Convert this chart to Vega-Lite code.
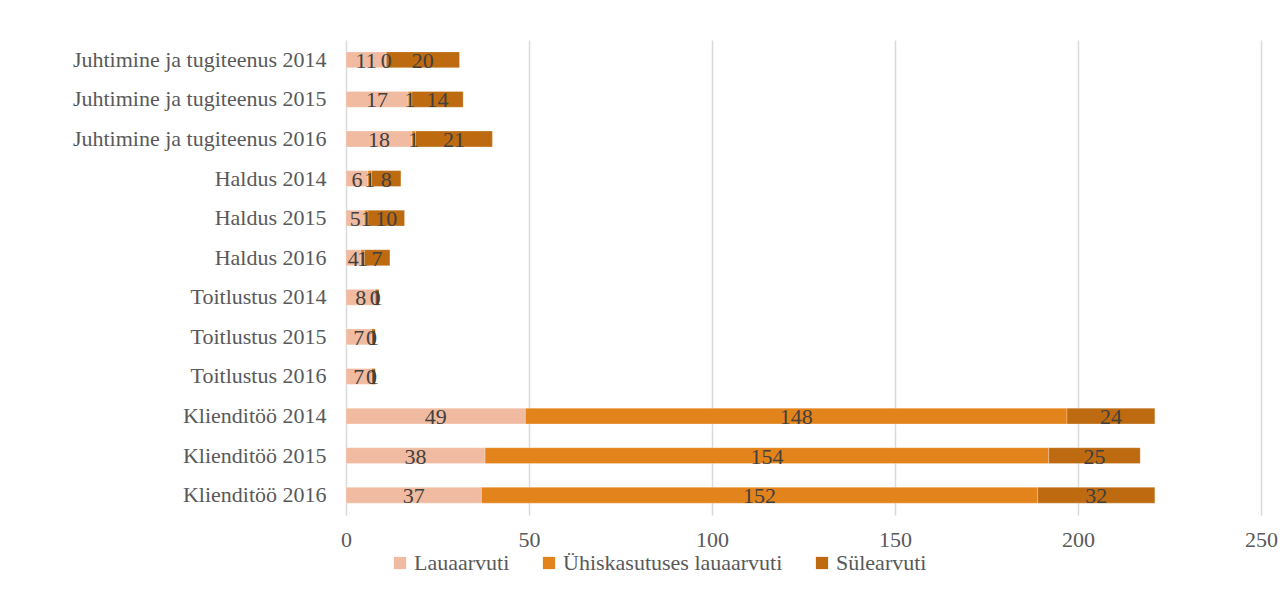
{
  "$schema": "https://vega.github.io/schema/vega-lite/v6.json",
  "autosize": {"type": "none"},
  "width": 915,
  "height": 475,
  "padding": {"left": 346, "top": 40, "right": 24, "bottom": 77},
  "background": "#ffffff",
  "config": {
    "view": {"stroke": null},
    "font": "Liberation Serif"
  },
  "data": {
    "values": [
      {"rida": "Juhtimine ja tugiteenus 2014", "tyyp": "Lauaarvuti", "jrk": 1, "arv": 11},
      {"rida": "Juhtimine ja tugiteenus 2014", "tyyp": "Ühiskasutuses lauaarvuti", "jrk": 2, "arv": 0},
      {"rida": "Juhtimine ja tugiteenus 2014", "tyyp": "Sülearvuti", "jrk": 3, "arv": 20},
      {"rida": "Juhtimine ja tugiteenus 2015", "tyyp": "Lauaarvuti", "jrk": 1, "arv": 17},
      {"rida": "Juhtimine ja tugiteenus 2015", "tyyp": "Ühiskasutuses lauaarvuti", "jrk": 2, "arv": 1},
      {"rida": "Juhtimine ja tugiteenus 2015", "tyyp": "Sülearvuti", "jrk": 3, "arv": 14},
      {"rida": "Juhtimine ja tugiteenus 2016", "tyyp": "Lauaarvuti", "jrk": 1, "arv": 18},
      {"rida": "Juhtimine ja tugiteenus 2016", "tyyp": "Ühiskasutuses lauaarvuti", "jrk": 2, "arv": 1},
      {"rida": "Juhtimine ja tugiteenus 2016", "tyyp": "Sülearvuti", "jrk": 3, "arv": 21},
      {"rida": "Haldus 2014", "tyyp": "Lauaarvuti", "jrk": 1, "arv": 6},
      {"rida": "Haldus 2014", "tyyp": "Ühiskasutuses lauaarvuti", "jrk": 2, "arv": 1},
      {"rida": "Haldus 2014", "tyyp": "Sülearvuti", "jrk": 3, "arv": 8},
      {"rida": "Haldus 2015", "tyyp": "Lauaarvuti", "jrk": 1, "arv": 5},
      {"rida": "Haldus 2015", "tyyp": "Ühiskasutuses lauaarvuti", "jrk": 2, "arv": 1},
      {"rida": "Haldus 2015", "tyyp": "Sülearvuti", "jrk": 3, "arv": 10},
      {"rida": "Haldus 2016", "tyyp": "Lauaarvuti", "jrk": 1, "arv": 4},
      {"rida": "Haldus 2016", "tyyp": "Ühiskasutuses lauaarvuti", "jrk": 2, "arv": 1},
      {"rida": "Haldus 2016", "tyyp": "Sülearvuti", "jrk": 3, "arv": 7},
      {"rida": "Toitlustus 2014", "tyyp": "Lauaarvuti", "jrk": 1, "arv": 8},
      {"rida": "Toitlustus 2014", "tyyp": "Ühiskasutuses lauaarvuti", "jrk": 2, "arv": 0},
      {"rida": "Toitlustus 2014", "tyyp": "Sülearvuti", "jrk": 3, "arv": 1},
      {"rida": "Toitlustus 2015", "tyyp": "Lauaarvuti", "jrk": 1, "arv": 7},
      {"rida": "Toitlustus 2015", "tyyp": "Ühiskasutuses lauaarvuti", "jrk": 2, "arv": 0},
      {"rida": "Toitlustus 2015", "tyyp": "Sülearvuti", "jrk": 3, "arv": 1},
      {"rida": "Toitlustus 2016", "tyyp": "Lauaarvuti", "jrk": 1, "arv": 7},
      {"rida": "Toitlustus 2016", "tyyp": "Ühiskasutuses lauaarvuti", "jrk": 2, "arv": 0},
      {"rida": "Toitlustus 2016", "tyyp": "Sülearvuti", "jrk": 3, "arv": 1},
      {"rida": "Klienditöö 2014", "tyyp": "Lauaarvuti", "jrk": 1, "arv": 49},
      {"rida": "Klienditöö 2014", "tyyp": "Ühiskasutuses lauaarvuti", "jrk": 2, "arv": 148},
      {"rida": "Klienditöö 2014", "tyyp": "Sülearvuti", "jrk": 3, "arv": 24},
      {"rida": "Klienditöö 2015", "tyyp": "Lauaarvuti", "jrk": 1, "arv": 38},
      {"rida": "Klienditöö 2015", "tyyp": "Ühiskasutuses lauaarvuti", "jrk": 2, "arv": 154},
      {"rida": "Klienditöö 2015", "tyyp": "Sülearvuti", "jrk": 3, "arv": 25},
      {"rida": "Klienditöö 2016", "tyyp": "Lauaarvuti", "jrk": 1, "arv": 37},
      {"rida": "Klienditöö 2016", "tyyp": "Ühiskasutuses lauaarvuti", "jrk": 2, "arv": 152},
      {"rida": "Klienditöö 2016", "tyyp": "Sülearvuti", "jrk": 3, "arv": 32}
    ]
  },
  "encoding": {
    "y": {
      "field": "rida",
      "type": "nominal",
      "sort": null,
      "title": null,
      "scale": {"paddingInner": 0.6, "paddingOuter": 0.3},
      "axis": {
        "domain": false,
        "ticks": false,
        "labelPadding": 20,
        "labelFontSize": 22,
        "labelColor": "#595959",
        "labelFont": "Liberation Serif",
        "labelLimit": 400
      }
    },
    "x": {
      "field": "arv",
      "type": "quantitative",
      "stack": "zero",
      "title": null,
      "scale": {"domain": [0, 250], "nice": false},
      "axis": {
        "values": [0, 50, 100, 150, 200, 250],
        "domain": false,
        "ticks": false,
        "grid": true,
        "gridColor": "#d9d9d9",
        "gridWidth": 1.5,
        "labelFlush": false,
        "labelPadding": 14,
        "labelFontSize": 22,
        "labelColor": "#595959",
        "labelFont": "Liberation Serif"
      }
    },
    "order": {"field": "jrk", "type": "quantitative"}
  },
  "layer": [
    {
      "mark": {"type": "bar", "stroke": "#ffffff", "strokeOpacity": 0.5, "strokeWidth": 0.5},
      "encoding": {
        "color": {
          "field": "tyyp",
          "type": "nominal",
          "title": null,
          "scale": {
            "domain": ["Lauaarvuti", "Ühiskasutuses lauaarvuti", "Sülearvuti"],
            "range": ["#f0bba0", "#e3831b", "#bd6a10"]
          },
          "legend": {
            "orient": "none",
            "direction": "horizontal",
            "legendX": 43,
            "legendY": 512,
            "symbolType": "square",
            "symbolSize": 150,
            "symbolStrokeWidth": 0,
            "labelFontSize": 22,
            "labelColor": "#595959",
            "labelFont": "Liberation Serif",
            "labelOffset": 3,
            "columnPadding": 28,
            "labelLimit": 400
          }
        }
      }
    },
    {
      "mark": {"type": "text", "fontSize": 22, "color": "#404040", "font": "Liberation Serif", "align": "center", "baseline": "middle", "dy": 1},
      "encoding": {
        "x": {"field": "arv", "type": "quantitative", "stack": "zero", "bandPosition": 0.5},
        "text": {"field": "arv", "type": "quantitative"}
      }
    }
  ]
}
